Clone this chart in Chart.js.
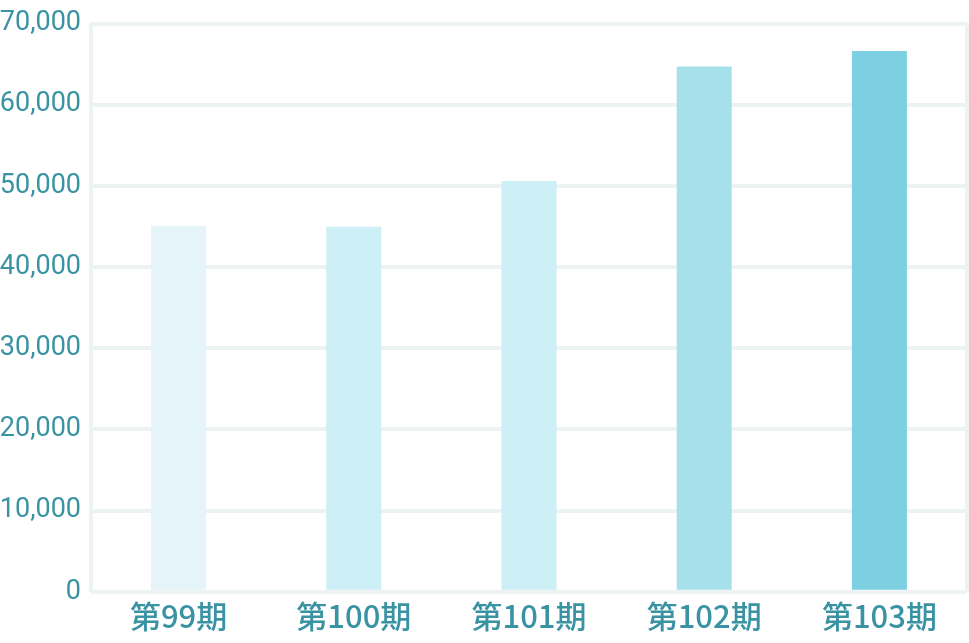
<!DOCTYPE html>
<html>
<head>
<meta charset="utf-8">
<script src="https://cdn.jsdelivr.net/npm/chart.js@4/dist/chart.umd.min.js"></script>
<style>
  html, body { margin: 0; padding: 0; background: #ffffff; }
  #wrap { width: 969px; height: 643px; position: relative; }
</style>
</head>
<body>
<div id="wrap"><canvas id="c"></canvas></div>
<script>
const categories = ['第99期', '第100期', '第101期', '第102期', '第103期'];
const values = [45100, 44980, 50600, 64700, 66600];
const barColors = ['#e4f4f8', '#cdeff6', '#cdeff6', '#a6e1eb', '#7dd0e1'];
const yTicks = [0, 10000, 20000, 30000, 40000, 50000, 60000, 70000];

const textColor = '#3a93a3';
const gridColor = '#edf3f3';

new Chart(document.getElementById('c'), {
  type: 'bar',
  data: {
    labels: categories,
    datasets: [{
      data: values,
      backgroundColor: barColors,
      borderWidth: 0,
      categoryPercentage: 1.0,
      barPercentage: 0.314
    }]
  },
  options: {
    responsive: true,
    maintainAspectRatio: false,
    animation: false,
    layout: { padding: { top: 6, right: 2, bottom: 2, left: 0 } },
    plugins: { legend: { display: false }, tooltip: { enabled: false } },
    scales: {
      x: {
        offset: true,
        grid: {
          display: true,
          offset: true,
          drawTicks: false,
          lineWidth: 4,
          color: c => (c.type === 'tick' && c.index > 0) ? 'rgba(0,0,0,0)' : gridColor
        },
        border: { display: false },
        ticks: {
          color: textColor,
          font: { family: '"Noto Sans CJK JP", "Noto Sans", sans-serif', size: 31, weight: '500' },
          padding: 6,
          maxRotation: 0
        }
      },
      y: {
        min: yTicks[0],
        max: yTicks[yTicks.length - 1],
        afterBuildTicks: scale => { scale.ticks = yTicks.map(v => ({ value: v })); },
        afterFit: scale => { scale.width = 91; },
        grid: {
          color: gridColor,
          lineWidth: 4,
          drawTicks: false
        },
        border: { display: false },
        ticks: {
          color: textColor,
          font: { family: 'Roboto, "Noto Sans", sans-serif', size: 27, lineHeight: 1 },
          padding: 10,
          callback: v => v.toLocaleString('en-US')
        }
      }
    }
  }
});
</script>
</body>
</html>
